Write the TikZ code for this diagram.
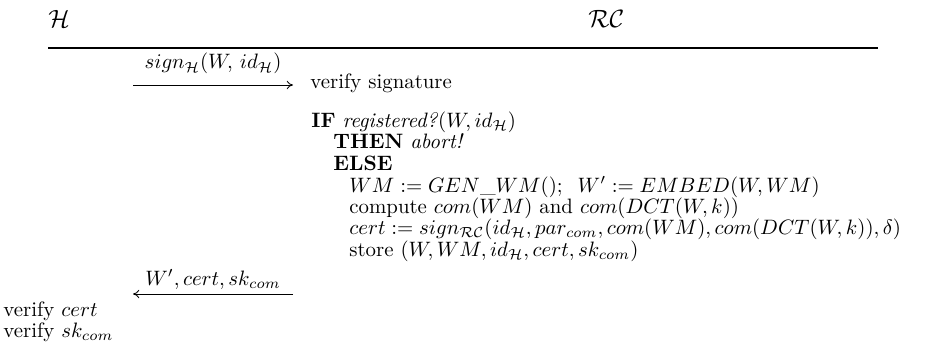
\documentclass[tikz,border=0pt]{standalone}
\usepackage{amsmath,amssymb}
\usepackage{tikz}
\usetikzlibrary{positioning, arrows.meta}

\begin{document}
\begin{tikzpicture}[x=0.48pt, y=-0.48pt,
    msg/.style={-{To[length=3pt,width=4pt]}, line width=0.4pt},
    txt/.style={anchor=base west, inner sep=0pt}]
    \useasboundingbox (0,0) rectangle (930,345);

    % parties
    \node[txt, font=\large] (H) at (48,27) {$\mathcal{H}$};
    \node[txt, font=\large] (RC) at (588,27) {$\mathcal{RC}$};
    \coordinate (ruleL) at (48,48);
    \coordinate (ruleR) at (878,48);
    \draw[line width=0.8pt] (ruleL) -- (ruleR);

    % first message
    \coordinate (m1s) at (133,85);
    \coordinate (m1e) at (293,85);
    \draw[msg] (m1s) -- node[above, inner sep=5pt] {$sign_{\mathcal{H}}(W,\, id_{\mathcal{H}})$} (m1e);
    \node[txt] (vsig) at (310,88) {verify signature};

    % registration
    \node[txt] (if) at (311,127) {\textbf{IF} \textit{registered?}$(W, id_{\mathcal{H}})$};
    \node[txt] (then) at (333,148) {\textbf{THEN} \textit{abort!}};
    \node[txt] (else) at (333,170) {\textbf{ELSE}};
    \node[txt] (wm) at (349,192) {$WM := GEN\_WM();\;\; W' := EMBED(W, WM)$};
    \node[txt] (comp) at (349,213) {compute $com(WM)$ and $com(DCT(W,k))$};
    \node[txt] (cert) at (349,234) {$cert := sign_{\mathcal{RC}}(id_{\mathcal{H}}, par_{com}, com(WM), com(DCT(W,k)), \delta)$};
    \node[txt] (store) at (349,256) {store $(W, WM, id_{\mathcal{H}}, cert, sk_{com})$};

    % second message
    \coordinate (m2s) at (293,294);
    \coordinate (m2e) at (133,294);
    \draw[msg] (m2s) -- node[above, inner sep=2pt] {$W', cert, sk_{com}$} (m2e);
    \node[txt] (vcert) at (3,316) {verify $cert$};
    \node[txt] (vsk) at (3,337) {verify $sk_{com}$};
\end{tikzpicture}
\end{document}
